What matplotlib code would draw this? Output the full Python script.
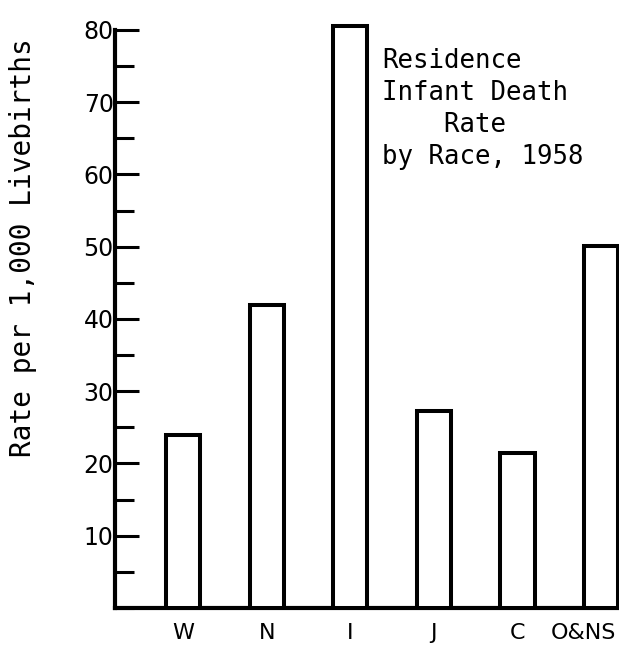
"""Residence infant death rate by race, 1958 (typewritten bar chart)."""
import matplotlib
matplotlib.use('Agg')
import matplotlib.pyplot as plt
import matplotlib.transforms as mtransforms
from matplotlib.ticker import MultipleLocator

# Data
races = ['W', 'N', 'I', 'J', 'C', 'O&NS']
rates = [24.0, 42.0, 80.5, 27.3, 21.4, 50.1]

W, H = 619, 647
fig = plt.figure(figsize=(W / 100, H / 100), dpi=100)
ax = fig.add_axes([0.186, 0.0603, 0.814, 0.9045])

x = list(range(len(races)))
ax.bar(x, rates, width=0.41, color='white', edgecolor='black', linewidth=2.9,
       zorder=3)

ax.set_xlim(-0.813, 5.215)
ax.set_ylim(0, 81)

# axes styling: only left and bottom, thick
for side in ('top', 'right'):
    ax.spines[side].set_visible(False)
ax.spines['left'].set_linewidth(3)
ax.spines['bottom'].set_linewidth(3)
ax.spines['left'].set_bounds(0, 80)

ax.yaxis.set_minor_locator(MultipleLocator(5))
ax.set_yticks([10, 20, 30, 40, 50, 60, 70, 80])
ax.tick_params(axis='y', which='major', direction='in', length=17, width=2.2,
               labelsize=17, pad=1)
ax.tick_params(axis='y', which='minor', direction='in', length=14, width=2.2)

ax.set_xticks(x)
ax.set_xticklabels(races)
ax.tick_params(axis='x', length=0, labelsize=16, pad=11)
# last label is squeezed against the right edge
last = ax.get_xticklabels()[-1]
last.set_transform(last.get_transform() +
                   mtransforms.ScaledTranslation(-18 / 100, 0, fig.dpi_scale_trans))

mono = ['DejaVu Sans Mono']
ax.set_ylabel('Rate per 1,000 Livebirths', fontsize=20, family=mono)
ax.yaxis.set_label_coords(-0.155, 0.615)

fig.text(382 / W, 1 - 48 / H, 'Residence\nInfant Death\n    Rate\nby Race, 1958',
         fontsize=18.5, family=mono, ha='left', va='top', linespacing=1.3)

plt.savefig('out.png', dpi=100)
